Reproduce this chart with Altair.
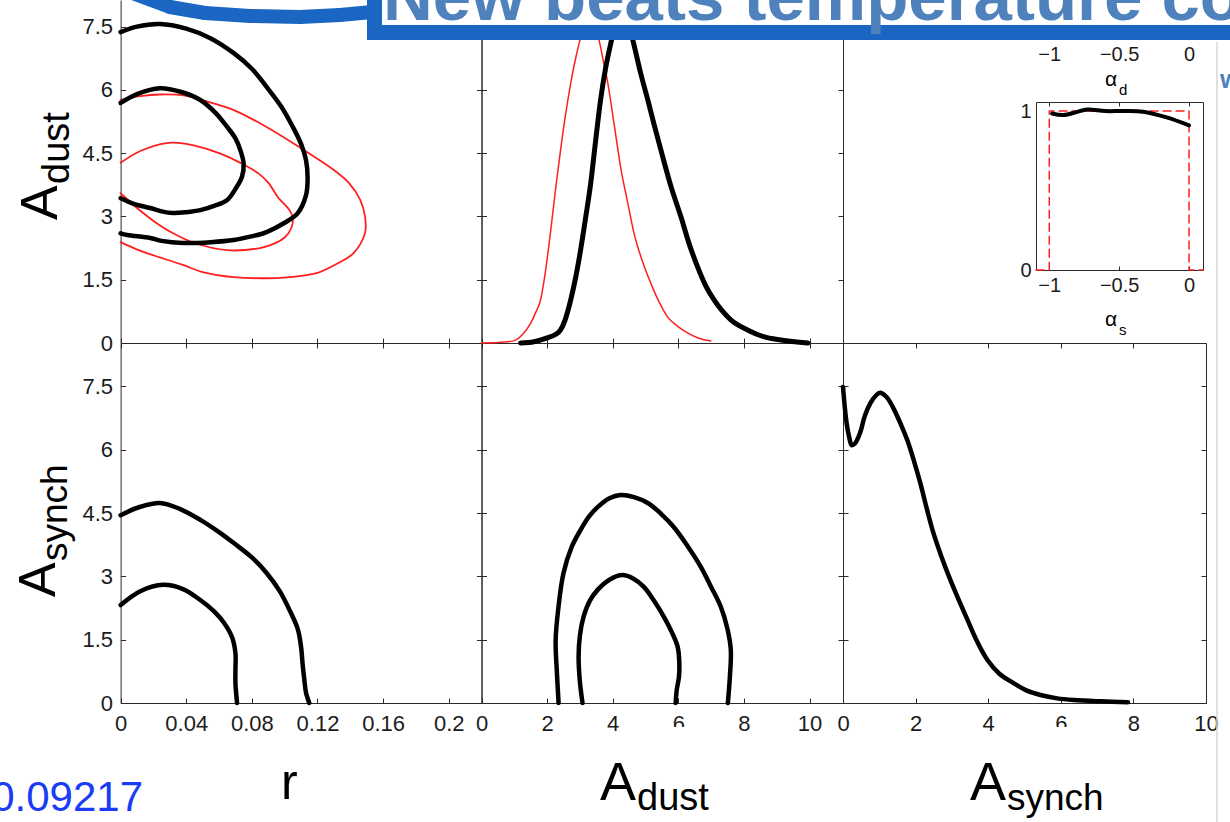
import altair as alt
import pandas as pd

W, H = 1230, 822

# ---------------- tick values ----------------
R_TICKS = [0, 0.04, 0.08, 0.12, 0.16, 0.2]
A_TICKS = [0, 2, 4, 6, 8, 10]
Y_TICKS = [0, 1.5, 3, 4.5, 6, 7.5]
ALPHA_TICKS = [-1, -0.5, 0]
INSET_Y_TICKS = [0, 1]

# ---------------- r vs A_dust (2-D contours) ----------------
rd_black_outer = [(0, 7.37), (0.01, 7.5), (0.024, 7.56), (0.04, 7.45), (0.055, 7.22), (0.069, 6.87),
                  (0.08, 6.5), (0.089, 6.07), (0.098, 5.6), (0.105, 5.12), (0.11, 4.72), (0.113, 4.34),
                  (0.114, 3.9), (0.113, 3.5), (0.108, 3.08), (0.1, 2.85), (0.089, 2.63), (0.079, 2.52),
                  (0.069, 2.44), (0.055, 2.39), (0.038, 2.37), (0.025, 2.42), (0.018, 2.49), (0.004, 2.56),
                  (0, 2.6)]
rd_black_inner = [(0, 5.69), (0.01, 5.9), (0.024, 6.04), (0.037, 5.95), (0.0486, 5.76), (0.058, 5.45),
                  (0.065, 5.12), (0.07, 4.85), (0.073, 4.57), (0.075, 4.25), (0.074, 3.94), (0.07, 3.65),
                  (0.065, 3.39), (0.057, 3.25), (0.0486, 3.15), (0.04, 3.1), (0.032, 3.08), (0.025, 3.12),
                  (0.018, 3.2), (0.008, 3.3), (0, 3.43)]
rd_red_outer = [(0, 5.76), (0.012, 5.85), (0.024, 5.89), (0.04, 5.86), (0.055, 5.7), (0.069, 5.52),
                (0.089, 5.12), (0.109, 4.64), (0.13, 4.1), (0.139, 3.8), (0.146, 3.4), (0.149, 3.0),
                (0.149, 2.61), (0.142, 2.13), (0.133, 1.9), (0.12, 1.66), (0.108, 1.58), (0.095, 1.54),
                (0.069, 1.56), (0.05, 1.68), (0.038, 1.85), (0.016, 2.13), (0.008, 2.25), (0, 2.39)]
rd_red_inner = [(0, 4.27), (0.012, 4.55), (0.028, 4.74), (0.04, 4.72), (0.0486, 4.64), (0.062, 4.47),
                (0.073, 4.27), (0.084, 4.02), (0.09, 3.8), (0.096, 3.45), (0.103, 3.15), (0.105, 2.95),
                (0.104, 2.72), (0.1, 2.5), (0.094, 2.36), (0.085, 2.25), (0.065, 2.2), (0.045, 2.37),
                (0.032, 2.6), (0.022, 2.84), (0.01, 3.2), (0, 3.55)]

# ---------------- A_dust 1-D posterior ----------------
dust_black = [(1.19, 0.0), (1.6, 0.03), (2.0, 0.12), (2.25, 0.2), (2.41, 0.31), (2.55, 0.55), (2.72, 1.02),
              (2.87, 1.55), (3.02, 2.2), (3.18, 3.0), (3.33, 3.79), (3.48, 4.8), (3.63, 5.76), (3.78, 6.5),
              (3.94, 7.1), (4.1, 7.6), (4.3, 7.85), (4.45, 7.65), (4.6, 7.22), (4.85, 6.4), (5.07, 5.76),
              (5.27, 5.15), (5.47, 4.57), (5.78, 3.7), (6.08, 2.99), (6.33, 2.35), (6.59, 1.8), (6.84, 1.35),
              (7.09, 1.02), (7.6, 0.55), (8.11, 0.31), (8.6, 0.15), (9.13, 0.07), (9.95, 0.0)]
dust_red = [(0, 0), (0.5, 0.01), (0.98, 0.05), (1.25, 0.2), (1.5, 0.47), (1.65, 0.72), (1.8, 1.02),
            (1.95, 1.7), (2.1, 2.6), (2.25, 3.6), (2.41, 4.57), (2.56, 5.4), (2.72, 6.16), (2.87, 6.75),
            (3.02, 7.22), (3.3, 7.6), (3.57, 7.22), (3.71, 6.7), (3.85, 6.16), (4.05, 5.15), (4.24, 4.17),
            (4.45, 3.35), (4.65, 2.6), (4.9, 1.95), (5.16, 1.42), (5.41, 0.98), (5.67, 0.62), (5.97, 0.4),
            (6.28, 0.24), (6.6, 0.12), (6.99, 0.05)]

# ---------------- r vs A_synch ----------------
rs_outer = [(0, 4.45), (0.012, 4.65), (0.024, 4.74), (0.036, 4.6), (0.0486, 4.34), (0.06, 4.05),
            (0.069, 3.79), (0.08, 3.45), (0.089, 3.08), (0.097, 2.65), (0.103, 2.2), (0.108, 1.75),
            (0.11, 1.33), (0.111, 0.9), (0.112, 0.55), (0.113, 0.25), (0.115, 0)]
rs_inner = [(0, 2.32), (0.012, 2.65), (0.026, 2.8), (0.038, 2.7), (0.0486, 2.44), (0.057, 2.17),
            (0.063, 1.9), (0.068, 1.55), (0.07, 1.18), (0.07, 0.8), (0.07, 0.47), (0.071, 0)]

# ---------------- A_dust vs A_synch ----------------
ds_outer = [(2.35, 0), (2.3, 0.7), (2.26, 1.49), (2.35, 2.3), (2.5, 3.08), (2.75, 3.7), (3.02, 4.1),
            (3.28, 4.42), (3.54, 4.64), (3.9, 4.85), (4.24, 4.93), (4.65, 4.88), (5.07, 4.74), (5.45, 4.5),
            (5.86, 4.17), (6.28, 3.72), (6.69, 3.22), (7.0, 2.75), (7.3, 2.27), (7.5, 1.75), (7.6, 1.26),
            (7.57, 0.6), (7.51, 0)]
ds_inner = [(3.08, 0), (3.0, 0.5), (2.96, 1.09), (3.0, 1.6), (3.11, 2.04), (3.3, 2.42), (3.54, 2.68),
            (3.9, 2.92), (4.3, 3.03), (4.62, 2.95), (4.95, 2.75), (5.26, 2.42), (5.56, 2.04), (5.8, 1.68),
            (5.98, 1.33), (6.03, 0.95), (6.02, 0.62), (5.95, 0.3), (5.92, 0)]

# ---------------- A_synch 1-D posterior ----------------
synch_black = [(0, 7.49), (0.05, 7.0), (0.1, 6.63), (0.17, 6.3), (0.24, 6.11), (0.33, 6.15), (0.47, 6.4),
               (0.6, 6.8), (0.75, 7.1), (0.9, 7.28), (1.02, 7.35), (1.2, 7.25), (1.38, 7.0), (1.57, 6.65),
               (1.77, 6.23), (1.95, 5.75), (2.13, 5.21), (2.31, 4.6), (2.49, 4.03), (2.72, 3.45),
               (2.96, 2.91), (3.2, 2.42), (3.43, 1.97), (3.7, 1.45), (3.98, 1.02), (4.3, 0.7), (4.7, 0.47),
               (5.05, 0.3), (5.44, 0.19), (5.9, 0.11), (6.36, 0.07), (7.1, 0.04), (7.85, 0.02)]

# ---------------- inset: alpha posterior and prior ----------------
alpha_black = [(-0.98, 0.985), (-0.9, 0.975), (-0.8, 0.995), (-0.73, 1.01), (-0.6, 1.0), (-0.47, 1.0),
               (-0.33, 0.996), (-0.16, 0.96), (0, 0.91)]
alpha_prior = [(-1.095, 0), (-1, 0), (-1, 1), (0, 1), (0, 0), (0.1, 0)]

# ---------------- panel geometry (layout only) ----------------
X_R = alt.Scale(domain=[0, 0.22], range=[120.6, 481.5], nice=False, zero=False)
X_DUST = alt.Scale(domain=[0, 11.02], range=[481.5, 843.0], nice=False, zero=False)
X_SYNCH = alt.Scale(domain=[0, 10], range=[843.0, 1206.0], nice=False, zero=False)
Y_TOP = alt.Scale(domain=[0, 8.13], range=[343.0, 0.0], nice=False, zero=False)
Y_BOT = alt.Scale(domain=[0, 8.53], range=[703.0, 343.0], nice=False, zero=False)
X_IN = alt.Scale(domain=[-1.095, 0.1], range=[1036.0, 1203.0], nice=False, zero=False)
Y_IN = alt.Scale(domain=[0, 1.057], range=[270.0, 102.0], nice=False, zero=False)

AX = "#2a2a2a"
FONT = "Liberation Sans"
BLACK = "#000000"
RED = "#ff1f1f"


def curve(pts, xsc, ysc, color, width, dash=None, interp="catmull-rom"):
    df = pd.DataFrame(pts, columns=["x", "y"])
    df["o"] = range(len(df))
    kw = dict(color=color, strokeWidth=width, strokeJoin="round", strokeCap="round", interpolate=interp)
    if dash:
        kw["strokeDash"] = dash
    return alt.Chart(df).mark_line(**kw).encode(
        x=alt.X("x:Q", scale=xsc, axis=None),
        y=alt.Y("y:Q", scale=ysc, axis=None),
        order="o:Q",
    )


def _off(orient, pos):
    if orient == "top":
        return -pos
    if orient == "bottom":
        return pos - H
    if orient == "left":
        return -pos
    return pos - W


def tick_axis(orient, pos, values, size=5):
    return alt.Axis(orient=orient, offset=_off(orient, pos), values=values, labels=False,
                    ticks=size > 0, tickSize=size, tickColor=AX, tickWidth=1,
                    domain=True, domainColor=AX, domainWidth=1, grid=False, title=None)


def label_axis(orient, pos, values, pad, size=22):
    return alt.Axis(orient=orient, offset=_off(orient, pos), values=values, labels=True,
                    ticks=False, tickSize=0, domain=False, grid=False, title=None, format=".2~f",
                    labelFont=FONT, labelFontSize=size, labelColor="#1c1c1c", labelPadding=pad,
                    labelFlush=False, labelOverlap=False)


def axis_layer(xsc, ysc, x0, y0, xaxis=None, yaxis=None):
    df = pd.DataFrame({"x": [x0], "y": [y0]})
    return alt.Chart(df).mark_point(opacity=0).encode(
        x=alt.X("x:Q", scale=xsc, axis=xaxis),
        y=alt.Y("y:Q", scale=ysc, axis=yaxis),
    )


def panel(*layers):
    return alt.layer(*layers).resolve_axis(x="independent", y="independent")


# ---------------- panels ----------------
tl = panel(
    curve(rd_red_outer, X_R, Y_TOP, RED, 1.8),
    curve(rd_red_inner, X_R, Y_TOP, RED, 1.8),
    curve(rd_black_outer, X_R, Y_TOP, BLACK, 4.5),
    curve(rd_black_inner, X_R, Y_TOP, BLACK, 4.5),
    axis_layer(X_R, Y_TOP, 0, 0, tick_axis("top", 343, R_TICKS), tick_axis("right", 120.6, Y_TICKS)),
    axis_layer(X_R, Y_TOP, 0, 0, None, tick_axis("left", 481.5, Y_TICKS)),
    axis_layer(X_R, Y_TOP, 0, 0, None, label_axis("left", 120.6, Y_TICKS, 8)),
)

tm = panel(
    curve(dust_red, X_DUST, Y_TOP, RED, 1.5, interp="monotone"),
    curve(dust_black, X_DUST, Y_TOP, BLACK, 5, interp="monotone"),
    axis_layer(X_DUST, Y_TOP, 0, 0, tick_axis("top", 343, A_TICKS), tick_axis("right", 481.5, Y_TICKS)),
    axis_layer(X_DUST, Y_TOP, 0, 0, None, tick_axis("left", 843, Y_TICKS)),
)

bl = panel(
    curve(rs_outer, X_R, Y_BOT, BLACK, 4.5),
    curve(rs_inner, X_R, Y_BOT, BLACK, 4.5),
    axis_layer(X_R, Y_BOT, 0, 0, tick_axis("top", 703, R_TICKS), tick_axis("right", 120.6, Y_TICKS)),
    axis_layer(X_R, Y_BOT, 0, 0, tick_axis("bottom", 343, R_TICKS), tick_axis("left", 481.5, Y_TICKS)),
    axis_layer(X_R, Y_BOT, 0, 0, label_axis("bottom", 703, R_TICKS, 10), label_axis("left", 120.6, Y_TICKS, 8)),
)

bm = panel(
    curve(ds_outer, X_DUST, Y_BOT, BLACK, 4.5),
    curve(ds_inner, X_DUST, Y_BOT, BLACK, 4.5),
    axis_layer(X_DUST, Y_BOT, 0, 0, tick_axis("top", 703, A_TICKS), tick_axis("right", 481.5, Y_TICKS)),
    axis_layer(X_DUST, Y_BOT, 0, 0, tick_axis("bottom", 343, A_TICKS), tick_axis("left", 843, Y_TICKS)),
    axis_layer(X_DUST, Y_BOT, 0, 0, label_axis("bottom", 703, A_TICKS, 10), None),
)

br = panel(
    curve(synch_black, X_SYNCH, Y_BOT, BLACK, 4.5),
    axis_layer(X_SYNCH, Y_BOT, 0, 0, tick_axis("top", 703, A_TICKS), tick_axis("right", 843, Y_TICKS)),
    axis_layer(X_SYNCH, Y_BOT, 0, 0, tick_axis("bottom", 343, A_TICKS), tick_axis("left", 1206, Y_TICKS)),
    axis_layer(X_SYNCH, Y_BOT, 0, 0, label_axis("bottom", 703, A_TICKS, 10), None),
)

inset = panel(
    curve(alpha_prior, X_IN, Y_IN, RED, 1.5, dash=[8, 5], interp="linear"),
    curve(alpha_black, X_IN, Y_IN, BLACK, 4),
    axis_layer(X_IN, Y_IN, -1, 0, tick_axis("top", 270, ALPHA_TICKS, 4), tick_axis("right", 1036, INSET_Y_TICKS, 0)),
    axis_layer(X_IN, Y_IN, -1, 0, tick_axis("bottom", 102, ALPHA_TICKS, 4), tick_axis("left", 1203, INSET_Y_TICKS, 0)),
    axis_layer(X_IN, Y_IN, -1, 0, label_axis("bottom", 270, ALPHA_TICKS, 5, 20), label_axis("left", 1036, INSET_Y_TICKS, 5, 20)),
    axis_layer(X_IN, Y_IN, -1, 0, label_axis("bottom", 42, ALPHA_TICKS, 2, 20), None),
)


# ---------------- annotations ----------------
def text(t, x, y, size, color="black", angle=0, align="left", weight="normal", font=FONT):
    return alt.Chart(pd.DataFrame({"t": [t]})).mark_text(
        align=align, baseline="alphabetic", angle=angle, fontSize=size, font=font,
        fontWeight=weight, color=color,
    ).encode(x=alt.value(x), y=alt.value(y), text="t:N")


def stroke(x1, y1, x2, y2, w, color, cap="round"):
    return alt.Chart(pd.DataFrame({"a": [0]})).mark_rule(color=color, strokeWidth=w, strokeCap=cap).encode(
        x=alt.value(x1), y=alt.value(y1), x2=alt.value(x2), y2=alt.value(y2))


def box(x1, y1, x2, y2, color):
    return alt.Chart(pd.DataFrame({"a": [0]})).mark_rect(color=color).encode(
        x=alt.value(x1), y=alt.value(y1), x2=alt.value(x2), y2=alt.value(y2))


BAND = "#1a66c2"
TITLE_BLUE = "#4f81bd"

decor = [
    # banner
    box(374, 0, 1230, 32, "white"),
    stroke(135, -6, 170, 7, 14, BAND),
    stroke(170, 7, 205, 13, 14, BAND),
    stroke(205, 13, 250, 16, 14, BAND),
    stroke(250, 16, 300, 17, 14, BAND),
    stroke(300, 17, 340, 15, 14, BAND),
    stroke(340, 15, 372, 12, 14, BAND),
    stroke(374.5, -2, 374.5, 40, 15, BAND, "butt"),
    stroke(367, 32.5, 1232, 32.5, 15, BAND, "butt"),
    text("New beats temperature co", 383, 20, 69, TITLE_BLUE, weight="bold"),
    text("w", 1220, 88, 26, TITLE_BLUE, weight="bold"),
    # slide edge
    stroke(1217, 42, 1217, 822, 1.5, "#d6d6d6", "butt"),
    # slide text boxes partly hiding the "6" tick labels
    box(664, 727, 694, 744, "white"),
    box(1046, 727, 1076, 744, "white"),
    # axis titles
    text("A", 57, 220, 52, angle=270),
    text("dust", 69, 184, 38, angle=270),
    text("A", 55, 597, 52, angle=270),
    text("synch", 67, 561, 37, angle=270),
    text("r", 281, 799, 50),
    text("A", 600, 800, 54),
    text("dust", 637, 810, 38),
    text("A", 970, 800, 54),
    text("synch", 1007, 810, 37),
    # inset titles
    text("\u03b1", 1105, 86, 21),
    text("d", 1119, 95, 15),
    text("\u03b1", 1105, 326, 21),
    text("s", 1119, 335, 15),
    # reference number
    text("0.09217", 143, 811, 42, "#1a3cf5", align="right"),
]

chart = alt.layer(tl, tm, bl, bm, br, inset, *decor).resolve_scale(
    x="independent", y="independent"
).resolve_axis(
    x="independent", y="independent"
).properties(
    width=W, height=H, autosize=alt.AutoSizeParams(type="none"), padding=0
).configure_view(stroke=None)

chart.save("out.html", embed_options={"renderer": "svg", "actions": False})
